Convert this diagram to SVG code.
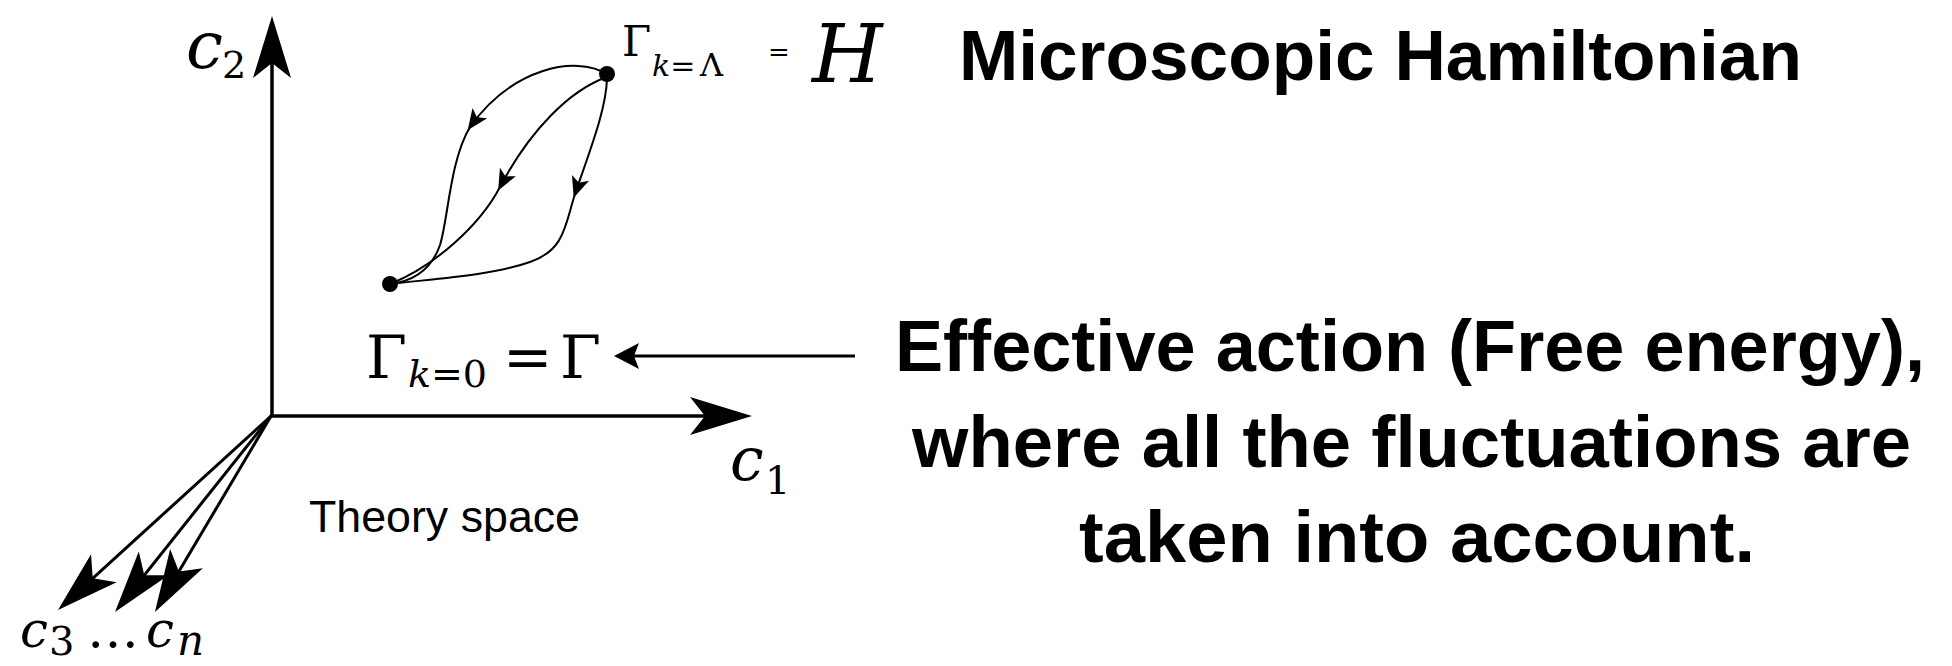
<svg xmlns="http://www.w3.org/2000/svg" width="1952" height="666" viewBox="0 0 1952 666">
<style>
.math{font-family:"DejaVu Serif","Liberation Serif",serif;fill:#000}
.it{font-style:italic}
.sans{font-family:"Liberation Sans",Arial,sans-serif;fill:#000}
.big{font-family:"Liberation Sans",Arial,sans-serif;font-weight:bold;font-size:72px;fill:#000}
.axis{stroke:#000;stroke-width:3.5;fill:none}
.dir{stroke:#000;stroke-width:3;fill:none}
.flow{stroke:#000;stroke-width:2;fill:none}
</style>
<defs>
<marker id="bigHead" markerUnits="userSpaceOnUse" markerWidth="80" markerHeight="50" viewBox="-60 -25 80 50" refX="0" refY="0" orient="auto" overflow="visible">
<path d="M8,0 L-54,-19 L-39,0 L-54,19 Z" fill="#000"/>
</marker>
<marker id="flowHead" markerUnits="userSpaceOnUse" markerWidth="30" markerHeight="24" viewBox="-22 -12 30 24" refX="0" refY="0" orient="auto" overflow="visible">
<path d="M4,0 L-17,-9 L-12,0 L-17,9 Z" fill="#000"/>
</marker>
<marker id="ptrHead" markerUnits="userSpaceOnUse" markerWidth="30" markerHeight="30" viewBox="-24 -15 30 30" refX="0" refY="0" orient="auto" overflow="visible">
<path d="M4,0 L-21,-13 L-16,0 L-21,13 Z" fill="#000"/>
</marker>
</defs>
<rect width="1952" height="666" fill="#fff"/>

<g id="axes">
<path class="axis" d="M272,416 L272,24" marker-end="url(#bigHead)"/>
<path class="axis" d="M270,416 L744,416" marker-end="url(#bigHead)"/>
<path class="dir" d="M271,416 L63.9,604.6" marker-end="url(#bigHead)"/>
<path class="dir" d="M271,416 L120,605.7" marker-end="url(#bigHead)"/>
<path class="dir" d="M271,416 L159,605.1" marker-end="url(#bigHead)"/>
<text class="math"><tspan class="it" x="186" y="68" font-size="66">c</tspan><tspan x="222" y="78" font-size="38">2</tspan></text>
<text class="math"><tspan class="it" x="730" y="480" font-size="60">c</tspan><tspan x="765" y="494" font-size="40">1</tspan></text>
<text class="math"><tspan class="it" x="20" y="647" font-size="50">c</tspan><tspan x="49" y="655" font-size="40">3</tspan><tspan x="87" y="647" font-size="52">…</tspan><tspan class="it" x="146" y="647" font-size="50">c</tspan><tspan class="it" x="177" y="655" font-size="42">n</tspan></text>
<text class="sans" x="309" y="532" font-size="45" textLength="271" lengthAdjust="spacingAndGlyphs">Theory space</text>
</g>

<g id="node-H">
<circle cx="607" cy="74" r="8" fill="#000"/>
<text class="math"><tspan x="622" y="56" font-size="42">Γ</tspan><tspan class="it" x="652" y="76" font-size="30">k</tspan><tspan font-size="30">=</tspan><tspan x="700" y="76" font-size="32">Λ</tspan></text>
<text class="math" x="768" y="61" font-size="26">=</text>
<text class="math it" x="812" y="82" font-size="81">H</text>
</g>

<g id="node-Gamma">
<circle cx="390" cy="284" r="8" fill="#000"/>
<text class="math"><tspan x="366" y="378" font-size="59">Γ</tspan><tspan class="it" x="408" y="387" font-size="38">k</tspan><tspan font-size="38">=0</tspan><tspan x="503" y="378" font-size="59">=</tspan><tspan x="560" y="378" font-size="59">Γ</tspan></text>
</g>

<g id="label-micro">
<text class="big" x="959" y="80" style="font-size:71px" textLength="843" lengthAdjust="spacingAndGlyphs">Microscopic Hamiltonian</text>
</g>

<g id="label-effective">
<text class="big" x="895" y="371" textLength="1030" lengthAdjust="spacingAndGlyphs">Effective action (Free energy),</text>
<text class="big" x="912" y="467" textLength="999" lengthAdjust="spacingAndGlyphs">where all the fluctuations are</text>
<text class="big" x="1079" y="562" textLength="676" lengthAdjust="spacingAndGlyphs">taken into account.</text>
</g>

<g id="connectors">
<path class="flow" d="M607,74 C575,55 512,68 470,127" marker-end="url(#flowHead)"/>
<path class="flow" d="M470,127 C450,160 448,220 440,245 C432,268 415,281 390,284"/>
<path class="flow" d="M607,77 C570,90 530,130 500,187" marker-end="url(#flowHead)"/>
<path class="flow" d="M500,187 C480,225 435,266 390,284"/>
<path class="flow" d="M607,79 C606,110 590,150 575,194" marker-end="url(#flowHead)"/>
<path class="flow" d="M575,194 C565,225 565,250 530,262 C490,276 430,279 390,284"/>
<path class="dir" d="M855,356 L618,356" marker-end="url(#ptrHead)"/>
</g>
</svg>
